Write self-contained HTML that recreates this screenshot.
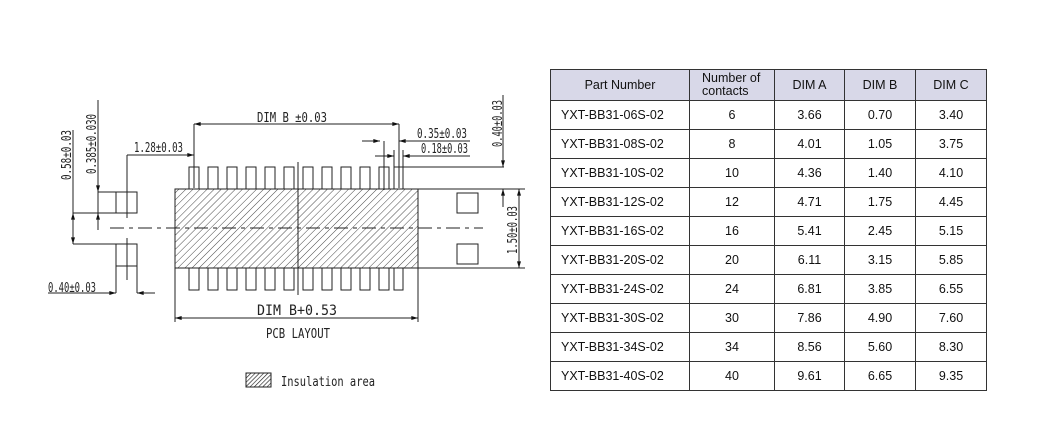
<!DOCTYPE html>
<html><head><meta charset="utf-8"><style>
body{margin:0;background:#fff;width:1037px;height:436px;overflow:hidden;position:relative;font-family:"Liberation Sans",Arial,sans-serif}
svg{position:absolute;left:0;top:0}
table{position:absolute;left:550px;top:69px;border-collapse:collapse;font-size:12.5px;color:#111}
td{border:1px solid #333;height:29px;padding:0;text-align:center;box-sizing:border-box}
tr.h td{background:#d8d8e8;height:31px;font-size:12.5px;line-height:13px}
td.p{text-align:left;padding-left:10px}
</style></head><body>
<svg width="1037" height="436" viewBox="0 0 1037 436">
<defs>
<pattern id="hatch" width="5" height="5" patternUnits="userSpaceOnUse" patternTransform="rotate(45)">
<line x1="0" y1="0" x2="0" y2="5" stroke="#333" stroke-width="0.9"/></pattern>
<pattern id="hatch2" width="3" height="3" patternUnits="userSpaceOnUse" patternTransform="rotate(45)">
<line x1="0" y1="0" x2="0" y2="3" stroke="#222" stroke-width="1.3"/></pattern>
<marker id="a" viewBox="0 0 10 6" refX="10" refY="3" markerWidth="8" markerHeight="4" orient="auto-start-reverse"><path d="M0,0L10,3L0,6z" fill="#111"/></marker>
</defs>
<g stroke="#222" stroke-width="1" fill="none">
<g id="pins">
<rect x="189" y="167" width="10" height="22"/><rect x="208" y="167" width="10" height="22"/><rect x="227" y="167" width="10" height="22"/><rect x="246" y="167" width="10" height="22"/><rect x="265" y="167" width="10" height="22"/><rect x="284" y="167" width="10" height="22"/><rect x="303" y="167" width="10" height="22"/><rect x="322" y="167" width="10" height="22"/><rect x="341" y="167" width="10" height="22"/><rect x="360" y="167" width="10" height="22"/><rect x="379" y="167" width="10" height="22"/><rect x="394" y="167" width="9" height="22"/>
</g>
<g transform="translate(0,101)">
<rect x="189" y="167" width="10" height="22"/><rect x="208" y="167" width="10" height="22"/><rect x="227" y="167" width="10" height="22"/><rect x="246" y="167" width="10" height="22"/><rect x="265" y="167" width="10" height="22"/><rect x="284" y="167" width="10" height="22"/><rect x="303" y="167" width="10" height="22"/><rect x="322" y="167" width="10" height="22"/><rect x="341" y="167" width="10" height="22"/><rect x="360" y="167" width="10" height="22"/><rect x="379" y="167" width="10" height="22"/><rect x="394" y="167" width="9" height="22"/>
</g>
<rect x="175" y="189" width="243" height="79" fill="url(#hatch)"/>
<line x1="110" y1="228" x2="483" y2="228" stroke-dasharray="14,5,4,5"/>
<line x1="298" y1="162" x2="298" y2="295"/>
<rect x="457" y="193" width="21" height="20"/><rect x="457" y="244" width="21" height="20"/>
<rect x="98" y="192" width="39" height="21"/><line x1="116" y1="192" x2="116" y2="213"/>
<line x1="127" y1="155" x2="127" y2="218"/>
<path d="M116,244H137V293M116,244V293M116,266H137"/><line x1="127" y1="238" x2="127" y2="280"/>
<line x1="194" y1="124" x2="399" y2="124" marker-start="url(#a)" marker-end="url(#a)"/>
<line x1="194" y1="124" x2="194" y2="188"/><line x1="399" y1="124" x2="399" y2="188"/>
<line x1="127" y1="155" x2="194" y2="155" marker-end="url(#a)"/>
<line x1="362" y1="141" x2="380" y2="141" marker-end="url(#a)"/><line x1="399" y1="141" x2="470" y2="141" marker-start="url(#a)"/>
<line x1="384" y1="141" x2="384" y2="190"/>
<line x1="375" y1="156" x2="394" y2="156" marker-end="url(#a)"/><line x1="403" y1="156" x2="470" y2="156" marker-start="url(#a)"/>
<line x1="394" y1="150" x2="394" y2="188"/><line x1="403" y1="150" x2="403" y2="188"/>
<line x1="403" y1="167" x2="504" y2="167"/>
<line x1="503" y1="95" x2="503" y2="167" marker-end="url(#a)"/>
<line x1="503" y1="207" x2="503" y2="189" marker-end="url(#a)"/>
<line x1="418" y1="189" x2="525" y2="189"/><line x1="418" y1="268" x2="525" y2="268"/>
<line x1="519" y1="189" x2="519" y2="268" marker-start="url(#a)" marker-end="url(#a)"/>
<line x1="73" y1="213" x2="98" y2="213"/><line x1="73" y1="244" x2="116" y2="244"/>
<line x1="73" y1="130" x2="73" y2="244"/>
<line x1="73" y1="228" x2="73" y2="213" marker-end="url(#a)"/><line x1="73" y1="230" x2="73" y2="244" marker-end="url(#a)"/>
<line x1="98" y1="100" x2="98" y2="192" marker-end="url(#a)"/><line x1="98" y1="230" x2="98" y2="213" marker-end="url(#a)"/>
<line x1="48" y1="293" x2="116" y2="293" marker-end="url(#a)"/><line x1="155" y1="293" x2="137" y2="293" marker-end="url(#a)"/>
<line x1="175" y1="268" x2="175" y2="322"/><line x1="418" y1="268" x2="418" y2="322"/>
<line x1="175" y1="318" x2="418" y2="318" marker-start="url(#a)" marker-end="url(#a)"/>
<rect x="246" y="373" width="25" height="14" fill="url(#hatch2)"/>
</g>
<g font-family="DejaVu Sans Mono,Liberation Mono,monospace" font-size="13" fill="#222">
<text x="257" y="122" textLength="70" lengthAdjust="spacingAndGlyphs">DIM B ±0.03</text>
<text x="134" y="152" textLength="49" lengthAdjust="spacingAndGlyphs">1.28±0.03</text>
<text x="417" y="138" textLength="50" lengthAdjust="spacingAndGlyphs">0.35±0.03</text>
<text x="421" y="153" textLength="47" lengthAdjust="spacingAndGlyphs">0.18±0.03</text>
<text x="48" y="292" textLength="48" lengthAdjust="spacingAndGlyphs">0.40±0.03</text>
<text x="257" y="315" textLength="80" lengthAdjust="spacingAndGlyphs" font-size="14">DIM B+0.53</text>
<text x="266" y="338" textLength="64" lengthAdjust="spacingAndGlyphs">PCB LAYOUT</text>
<text x="281" y="386" textLength="94" lengthAdjust="spacingAndGlyphs">Insulation area</text>
<text transform="translate(502,147) rotate(-90)" textLength="47" lengthAdjust="spacingAndGlyphs">0.40±0.03</text>
<text transform="translate(517,254) rotate(-90)" textLength="48" lengthAdjust="spacingAndGlyphs">1.50±0.03</text>
<text transform="translate(71,180) rotate(-90)" textLength="50" lengthAdjust="spacingAndGlyphs">0.58±0.03</text>
<text transform="translate(96,174) rotate(-90)" textLength="60" lengthAdjust="spacingAndGlyphs">0.385±0.030</text>
</g>
</svg>
<table>
<tr class="h"><td style="width:139px">Part Number</td><td style="width:85px;text-align:left;padding-left:12px">Number of<br>contacts</td><td style="width:70px">DIM A</td><td style="width:71px">DIM B</td><td style="width:71px">DIM C</td></tr>
<tr><td class="p">YXT-BB31-06S-02</td><td>6</td><td>3.66</td><td>0.70</td><td>3.40</td></tr>
<tr><td class="p">YXT-BB31-08S-02</td><td>8</td><td>4.01</td><td>1.05</td><td>3.75</td></tr>
<tr><td class="p">YXT-BB31-10S-02</td><td>10</td><td>4.36</td><td>1.40</td><td>4.10</td></tr>
<tr><td class="p">YXT-BB31-12S-02</td><td>12</td><td>4.71</td><td>1.75</td><td>4.45</td></tr>
<tr><td class="p">YXT-BB31-16S-02</td><td>16</td><td>5.41</td><td>2.45</td><td>5.15</td></tr>
<tr><td class="p">YXT-BB31-20S-02</td><td>20</td><td>6.11</td><td>3.15</td><td>5.85</td></tr>
<tr><td class="p">YXT-BB31-24S-02</td><td>24</td><td>6.81</td><td>3.85</td><td>6.55</td></tr>
<tr><td class="p">YXT-BB31-30S-02</td><td>30</td><td>7.86</td><td>4.90</td><td>7.60</td></tr>
<tr><td class="p">YXT-BB31-34S-02</td><td>34</td><td>8.56</td><td>5.60</td><td>8.30</td></tr>
<tr><td class="p">YXT-BB31-40S-02</td><td>40</td><td>9.61</td><td>6.65</td><td>9.35</td></tr>
</table>
</body></html>
